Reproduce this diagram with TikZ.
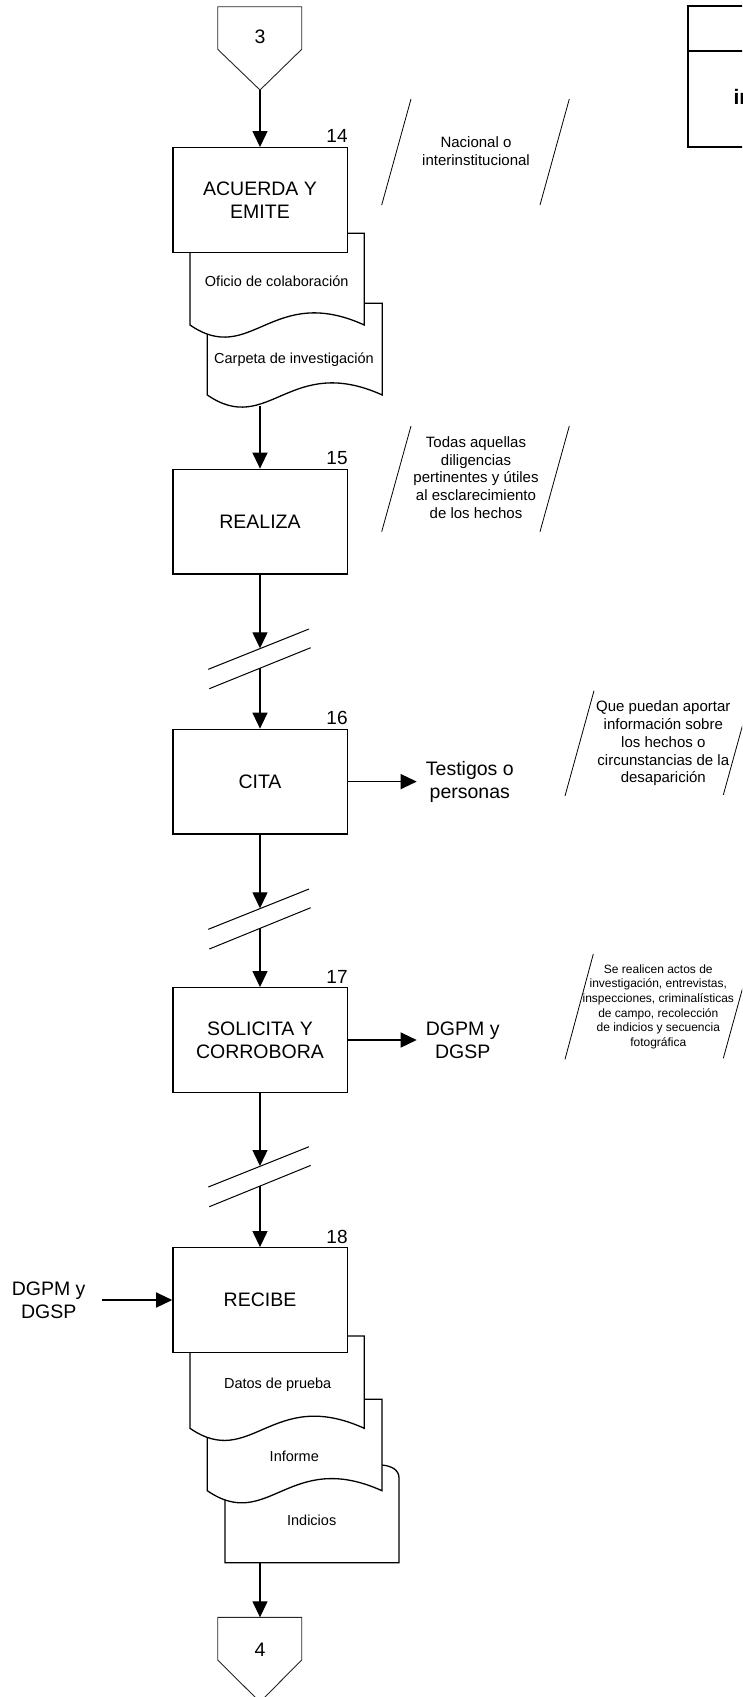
\documentclass[tikz,border=0pt]{standalone}
\usepackage{fontspec}
\setmainfont{Liberation Sans}
\usetikzlibrary{arrows.meta}
\begin{document}
\begin{tikzpicture}[x=1pt,y=-1pt,
  proc/.style={draw, line width=1.3pt, fill=white, minimum width=174.3pt, minimum height=104.6pt, inner sep=0pt, align=center, font=\fontsize{19.5}{22.6}\selectfont},
  num/.style={font=\fontsize{19}{22}\selectfont, inner sep=0pt, anchor=base east},
  arr/.style={line width=1.3pt, -{Triangle[length=16pt,width=15pt]}},
  doc/.style={draw, line width=1.3pt, fill=white},
  doctext/.style={font=\fontsize{14.5}{17}\selectfont, inner sep=0pt},
  note/.style={font=\fontsize{15}{17.7}\selectfont, align=center, inner sep=0pt},
  smallnote/.style={font=\fontsize{12}{14.6}\selectfont, align=center, inner sep=0pt},
  slash/.style={line width=0.8pt},
  side/.style={font=\fontsize{19.5}{23}\selectfont, align=center, inner ysep=0pt},
  brk/.style={line width=1pt},
  conn/.style={draw=black!85, line width=0.9pt, fill=white},
  conntext/.style={font=\fontsize{19.5}{22}\selectfont, inner sep=0pt},
]
\useasboundingbox (0,0) rectangle (742,1697);
\clip (0,0) rectangle (742,1697);

% ---------- connector 3 ----------
\coordinate (c3tip) at (260,90);
\draw[conn] (217.7,6.7) -- (301.7,6.7) -- (301.7,49.3) -- (c3tip) -- (217.7,49.3) -- cycle;
\node[conntext] (c3) at (260,37) {3};

% ---------- step 14 ----------
\draw[doc] (207.3,303.3) -- (382.3,303.3) -- (382.3,395)
  .. controls (289.5,353) and (268.5,437) .. (207.3,395) -- cycle;
\node[doctext] (d14b) at (294,360) {Carpeta de investigación};
\draw[doc] (190,233.3) -- (364.3,233.3) -- (364.3,325)
  .. controls (271.9,283) and (251,367) .. (190,325) -- cycle;
\node[doctext] (d14a) at (276.7,281) {Oficio de colaboración};
\node[proc] (B14) at (260,200) {ACUERDA Y\\EMITE};
\node[num] (n14) at ([yshift=5pt]B14.north east) {14};
\draw[arr] (c3tip) -- (B14.north);
\coordinate (d14bot) at (260,406);

\draw[slash] (381.7,205) -- (411,99);
\draw[slash] (540,205) -- (569.3,99);
\node[note] (a14) at (476,151.3) {Nacional o\\interinstitucional};

% ---------- step 15 ----------
\node[proc] (B15) at (260,521.6) {REALIZA};
\node[num] (n15) at ([yshift=4pt]B15.north east) {15};
\draw[arr] (d14bot) -- (B15.north);

\draw[slash] (381.7,531.7) -- (411,426);
\draw[slash] (540,531.7) -- (569.3,426);
\node[note] (a15) at (476,477.5) {Todas aquellas\\diligencias\\pertinentes y útiles\\al esclarecimiento\\de los hechos};

% break 1
\coordinate (k1) at (260,648.3);
\coordinate (k1b) at (260,668);
\draw[arr] (B15.south) -- (k1);
\draw[brk] (309,629) -- (208.3,669.3);
\draw[brk] (310.7,647.7) -- (209.3,688.7);

% ---------- step 16 ----------
\node[proc] (B16) at (260,781.6) {CITA};
\node[num] (n16) at ([yshift=4pt]B16.north east) {16};
\draw[arr] (k1b) -- (B16.north);
\node[side, anchor=west, inner xsep=9pt] (t16) at (416.7,781.6) {Testigos o\\personas};
\draw[arr] (B16.east) -- (t16.west);

\draw[slash] (565,796) -- (594,690.7);
\draw[slash] (723.3,795) -- (752.3,690);
\node[note] (a16) at (663.3,743.5) {Que puedan aportar\\información sobre\\los hechos o\\circunstancias de la\\desaparición};

% break 2
\coordinate (k2) at (260,908.3);
\coordinate (k2b) at (260,928);
\draw[arr] (B16.south) -- (k2);
\draw[brk] (309,889) -- (208.3,929.3);
\draw[brk] (310.7,907.7) -- (209.3,949);

% ---------- step 17 ----------
\node[proc] (B17) at (260,1040) {SOLICITA Y\\CORROBORA};
\node[num] (n17) at ([yshift=4pt]B17.north east) {17};
\draw[arr] (k2b) -- (B17.north);
\node[side, anchor=west, inner xsep=9pt] (t17) at (416.7,1040) {DGPM y\\DGSP};
\draw[arr] (B17.east) -- (t17.west);

\draw[slash] (565,1059.3) -- (593.3,954);
\draw[slash] (723.3,1058.3) -- (752,954);
\node[smallnote] (a17) at (658.3,1006.7) {Se realicen actos de\\investigación, entrevistas,\\inspecciones, criminalísticas\\de campo, recolección\\de indicios y secuencia\\fotográfica};

% break 3
\coordinate (k3) at (260,1166);
\coordinate (k3b) at (260,1185.7);
\draw[arr] (B17.south) -- (k3);
\draw[brk] (309,1146.7) -- (208.3,1187);
\draw[brk] (310.7,1165.4) -- (209.3,1206.7);

% ---------- step 18 ----------
\draw[doc] (225,1465) -- (382,1465) .. controls (392,1466) and (399,1470) .. (399,1478)
  -- (399,1562.7) -- (225,1562.7) -- cycle;
\node[doctext] (d18c) at (311.7,1520) {Indicios};
\draw[doc] (207.3,1399.3) -- (382,1399.3) -- (382,1490.7)
  .. controls (289,1448.7) and (268.4,1532.7) .. (207.3,1490.7) -- cycle;
\node[doctext] (d18b) at (294.3,1456.7) {Informe};
\draw[doc] (190,1336) -- (364.3,1336) -- (364.3,1428.3)
  .. controls (271.9,1386.3) and (251,1470.3) .. (190,1428.3) -- cycle;
\node[doctext] (d18a) at (277.7,1385) {Datos de prueba};
\node[proc] (B18) at (260,1300) {RECIBE};
\node[num] (n18) at ([yshift=4pt]B18.north east) {18};
\draw[arr] (k3b) -- (B18.north);
\node[side, anchor=east, inner xsep=16.6pt] (t18) at (102.3,1300) {DGPM y\\DGSP};
\draw[arr] (t18.east) -- (B18.west);
\coordinate (d18bot) at (260,1562.7);

% ---------- connector 4 ----------
\coordinate (c4top) at (260,1617.3);
\draw[conn] (217.7,1617.3) -- (301.7,1617.3) -- (301.7,1660) -- (260,1702) -- (217.7,1660) -- cycle;
\node[conntext] (c4) at (260,1649.3) {4};
\draw[arr] (d18bot) -- (c4top);

% ---------- top-right box ----------
\draw[line width=1.7pt] (770,5.7) -- (687.7,5.7) -- (687.7,146.7) -- (770,146.7);
\draw[line width=1.7pt] (687.7,51) -- (770,51);
\node[font=\bfseries\fontsize{21}{24}\selectfont, inner sep=0pt, anchor=base west] (tr) at (733.3,104.3) {in};
\end{tikzpicture}
\end{document}
